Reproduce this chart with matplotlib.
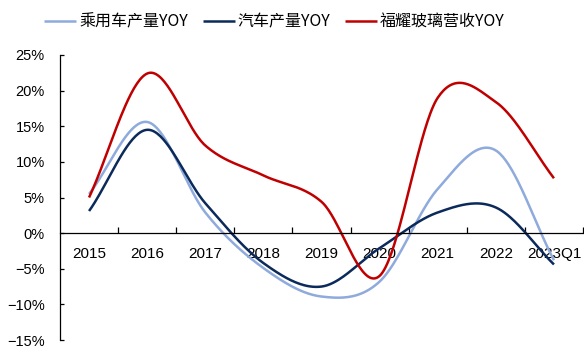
import matplotlib

matplotlib.use("Agg")
import matplotlib.pyplot as plt
import numpy as np
from matplotlib.ticker import FixedLocator, FuncFormatter

plt.rcParams["font.family"] = ["Noto Sans CJK SC", "DejaVu Sans"]

categories = ["2015", "2016", "2017", "2018", "2019", "2020", "2021", "2022", "2023Q1"]
passenger_yoy = [5.5, 15.6, 2.9, -4.9, -8.9, -6.8, 6.2, 11.6, -3.8]
auto_yoy = [3.1, 14.5, 4.2, -4.2, -7.5, -2.1, 2.9, 3.6, -4.4]
fuyao_yoy = [5.0, 22.4, 12.3, 8.1, 4.4, -6.0, 19.0, 18.4, 7.7]

series = [
    ("乘用车产量YOY", passenger_yoy, "#8FAADC"),
    ("汽车产量YOY", auto_yoy, "#0B2A5B"),
    ("福耀玻璃营收YOY", fuyao_yoy, "#C00000"),
]


def smooth(y, n=40):
    # Catmull-Rom through the points, like the spreadsheet's smoothed line
    y = np.asarray(y, float)
    p = np.concatenate([[2 * y[0] - y[1]], y, [2 * y[-1] - y[-2]]])
    xs, ys = [], []
    t = np.linspace(0, 1, n, endpoint=False)
    for i in range(len(y) - 1):
        p0, p1, p2, p3 = p[i], p[i + 1], p[i + 2], p[i + 3]
        seg = 0.5 * ((2 * p1) + (-p0 + p2) * t
                     + (2 * p0 - 5 * p1 + 4 * p2 - p3) * t ** 2
                     + (-p0 + 3 * p1 - 3 * p2 + p3) * t ** 3)
        xs.append(i + t)
        ys.append(seg)
    xs.append([len(y) - 1])
    ys.append([y[-1]])
    return np.concatenate(xs), np.concatenate(ys)


fig = plt.figure(figsize=(5.84, 3.47), dpi=100)
ax = fig.add_axes([60 / 584, 7 / 347, 523 / 584, 285 / 347])

x = np.arange(len(categories))
for label, vals, col in series:
    sx, sy = smooth(vals)
    ax.plot(sx, sy, color=col, lw=1.8, label=label, solid_capstyle="butt")

ax.set_xlim(-0.5, len(categories) - 0.5)
ax.set_ylim(-15, 25)

for s in ("top", "right"):
    ax.spines[s].set_visible(False)
ax.spines["bottom"].set_position(("data", 0))
ax.spines["left"].set_linewidth(0.9)
ax.spines["bottom"].set_linewidth(0.9)

ax.yaxis.set_major_locator(FixedLocator(np.arange(-15, 26, 5)))
ax.yaxis.set_major_formatter(FuncFormatter(
    lambda v, _: f"{v:.0f}%".replace("-", "\u2212")))
ax.tick_params(axis="y", direction="in", length=3, width=0.9, pad=11,
               labelsize=10.5, labelfontfamily="Liberation Sans")

ax.xaxis.set_major_locator(FixedLocator(np.arange(0.5, len(categories), 1)))
ax.xaxis.set_major_formatter(FuncFormatter(lambda v, _: ""))
ax.xaxis.set_minor_locator(FixedLocator(x))
ax.set_xticklabels(categories, minor=True)
ax.tick_params(axis="x", which="major", direction="in", length=4, width=0.9)
ax.tick_params(axis="x", which="minor", length=0, pad=10,
               labelsize=11, labelfontfamily="Liberation Sans")

fig.legend(loc="center left", bbox_to_anchor=(38 / 584, 1 - 22 / 347),
           ncol=3, frameon=False, fontsize=11.5, handlelength=2.0,
           handletextpad=0.2, columnspacing=0.9, borderaxespad=0)

fig.savefig("out.png", dpi=100)
